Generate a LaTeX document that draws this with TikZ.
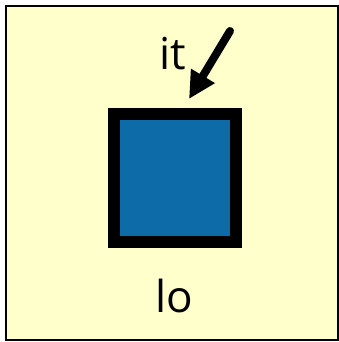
\documentclass[tikz,border=0pt]{standalone}
\usepackage{fontspec}
\setmainfont{Open Sans}
\usetikzlibrary{arrows.meta,positioning}
\definecolor{paleyellow}{RGB}{255,255,204}
\definecolor{boxblue}{RGB}{13,108,168}

\begin{document}
\begin{tikzpicture}[x=1pt,y=-1pt,font=\fontsize{44}{50}\selectfont]
\useasboundingbox (0,0) rectangle (339,342);
\draw[fill=paleyellow,line width=2pt] (6,6) rectangle (337.5,340);

\node[draw=black,fill=boxblue,line width=12pt,minimum width=122pt,minimum height=128pt,inner sep=0pt] (bluebox) at (175,178) {};

\node[anchor=base] (toplabel) at (173,70) {it};
\node[anchor=base] (botlabel) at (174,312) {lo};

\coordinate (arrowtail) at (230,31);
\coordinate (arrowtip) at (189,99);
\draw[-{Triangle[length=27pt,width=26pt]}, line width=8pt, line cap=round] (arrowtail) -- (arrowtip);
\end{tikzpicture}
\end{document}
